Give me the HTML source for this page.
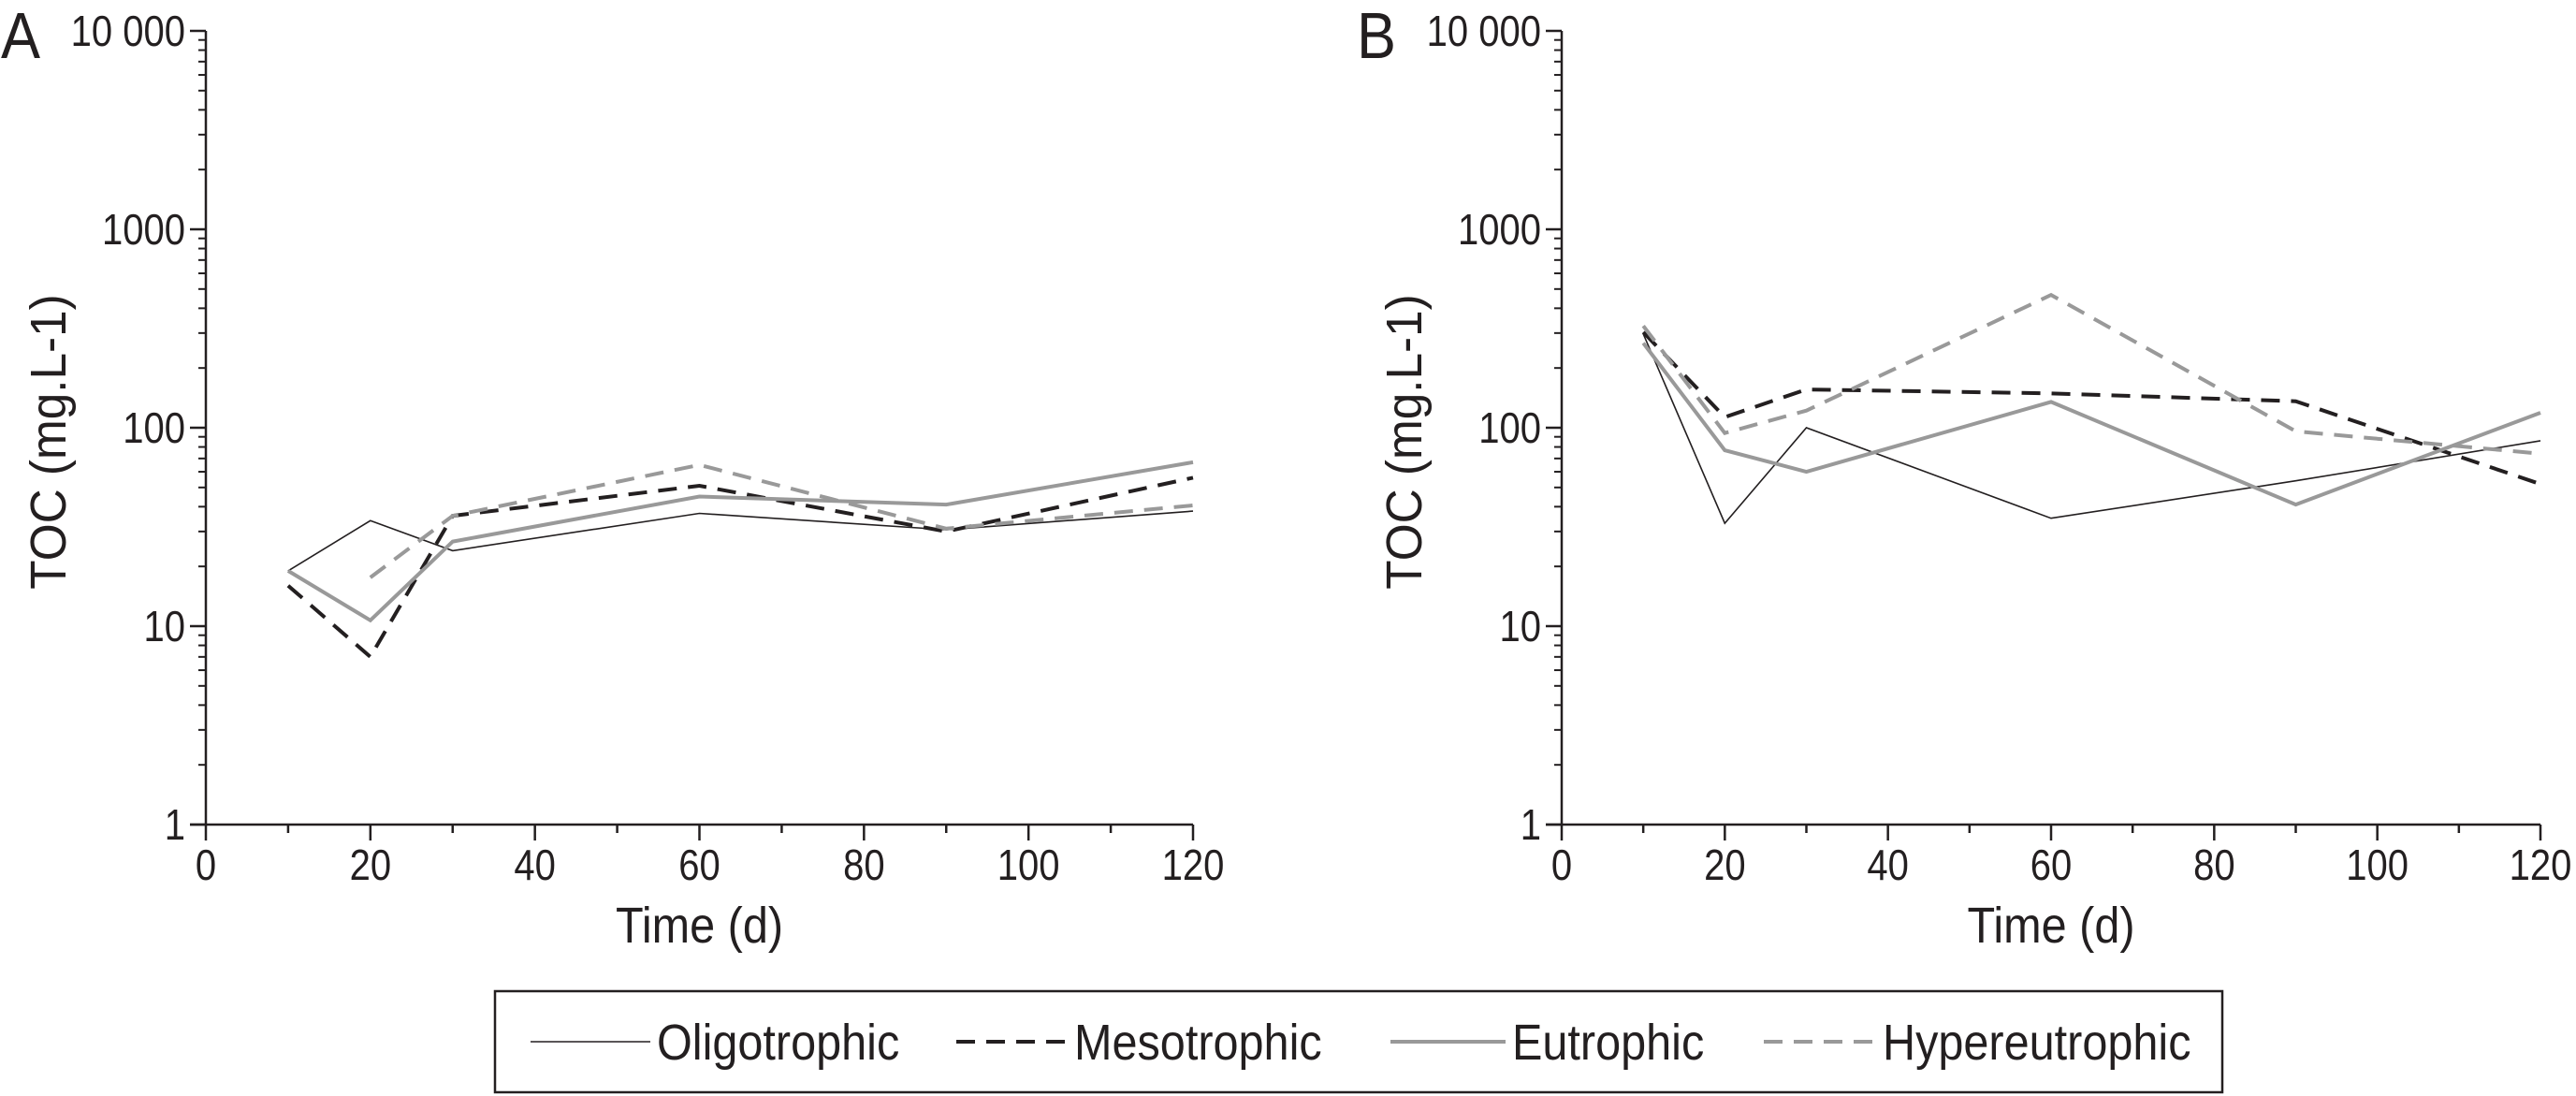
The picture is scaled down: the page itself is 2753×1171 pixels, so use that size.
<!DOCTYPE html>
<html><head><meta charset="utf-8">
<style>
html,body{margin:0;padding:0;background:#fff;}
svg{display:block;}
text{font-family:"Liberation Sans",sans-serif;fill:#231f20;}
</style></head>
<body>
<svg id="chart" width="2753" height="1171" viewBox="0 0 2753 1171" xmlns="http://www.w3.org/2000/svg"></svg>
<script>
const xTicks = [0, 20, 40, 60, 80, 100, 120];
const yTickLabels = ["1", "10", "100", "1000", "10 000"];
const seriesNames = ["Oligotrophic", "Mesotrophic", "Eutrophic", "Hypereutrophic"];
const daysA = [10, 20, 30, 60, 90, 120];
const oligoA = [19, 34, 24, 37, 30.6, 38];
const mesoA = [16, 7, 36, 51, 30, 56];
const eutroA = [19, 10.7, 26.7, 45, 41, 67];
const hyperDaysA = [20, 30, 60, 90, 120];
const hyperA = [17.6, 36, 65, 31, 40.6];
const daysB = [10, 20, 30, 60, 90, 120];
const oligoB = [297, 33, 100, 35, 54, 86];
const mesoB = [303, 113, 156, 149, 136, 52];
const eutroB = [267, 77, 60, 135, 41, 119];
const hyperB = [326, 94, 122, 467, 96, 74];

const NS = "http://www.w3.org/2000/svg";
const svg = document.getElementById("chart");
function el(tag, attrs, parent) {
  const e = document.createElementNS(NS, tag);
  for (const k in attrs) e.setAttribute(k, attrs[k]);
  (parent || svg).appendChild(e);
  return e;
}
function txt(parent, x, y, size, sx, anchor, str, rot) {
  let tf = "translate(" + x + " " + y + ")";
  if (rot) tf += " rotate(" + rot + ")";
  tf += " scale(" + sx + " 1)";
  const t = el("text", {x:0, y:0, "font-size":size, "text-anchor":anchor, transform:tf}, parent);
  t.textContent = str;
  return t;
}
const styles = [
  {stroke:"#231f20", w:1.6, dash:null},
  {stroke:"#231f20", w:4, dash:"20 12"},
  {stroke:"#999999", w:4, dash:null},
  {stroke:"#999999", w:4, dash:"20 12"}
];
const Y1 = 881, Y10K = 33;
function yScale(v) { return Y1 - (Math.log10(v) / 4) * (Y1 - Y10K); }

function panel(id, letter, x0, x120, data) {
  const g = el("g", {});
  
  
  const xs = v => x0 + (v / 120) * (x120 - x0);
  const ax = el("g", {}, g);
  
  
  el("line", {x1:x0, y1:Y10K, x2:x0, y2:Y1, stroke:"#231f20", "stroke-width":2.5}, ax);
  el("line", {x1:x0-17, y1:Y1, x2:x120, y2:Y1, stroke:"#231f20", "stroke-width":2.5}, ax);
  for (let d = 0; d < 4; d++) {
    for (let m = 2; m <= 9; m++) {
      const y = yScale(Math.pow(10, d) * m);
      el("line", {x1:x0-8, y1:y, x2:x0, y2:y, stroke:"#231f20", "stroke-width":2}, ax);
    }
  }
  yTickLabels.forEach((lab, i) => {
    const y = yScale(Math.pow(10, i));
    el("line", {x1:x0-17, y1:y, x2:x0, y2:y, stroke:"#231f20", "stroke-width":2.5}, ax);
    const t = txt(ax, x0-22, y+16, 46, 0.87, "end", lab);
    
    
  });
  xTicks.forEach(v => {
    el("line", {x1:xs(v), y1:Y1, x2:xs(v), y2:Y1+17, stroke:"#231f20", "stroke-width":2.5}, ax);
    const t = txt(ax, xs(v), 940, 46, 0.87, "middle", String(v));
    
    
  });
  for (let v = 10; v < 120; v += 20) {
    el("line", {x1:xs(v), y1:Y1, x2:xs(v), y2:Y1+9, stroke:"#231f20", "stroke-width":2.5}, ax);
  }
  const xt = txt(g, (x0 + x120) / 2, 1007, 54, 0.9, "middle", "Time (d)");
  
  
  const yt = txt(g, x0 - 150, 472, 54, 0.95, "middle", "TOC (mg.L-1)", -90);
  
  
  const pl = txt(g, x0 - 219, 62, 70, 0.9, "start", letter);
  
  
  data.forEach((s, i) => {
    const pts = s.x.map((d, j) => xs(d).toFixed(1) + "," + yScale(s.y[j]).toFixed(1)).join(" ");
    const st = styles[i];
    const a = {points:pts, fill:"none", stroke:st.stroke, "stroke-width":st.w, "stroke-linejoin":"miter"};
    if (st.dash) a["stroke-dasharray"] = st.dash;
    const p = el("polyline", a, g);
    
    
  });
}
panel("a", "A", 220, 1275, [
  {x:daysA, y:oligoA}, {x:daysA, y:mesoA}, {x:daysA, y:eutroA}, {x:hyperDaysA, y:hyperA}
]);
panel("b", "B", 1669, 2715, [
  {x:daysB, y:oligoB}, {x:daysB, y:mesoB}, {x:daysB, y:eutroB}, {x:daysB, y:hyperB}
]);

// Legend
const lg = el("g", {});


el("rect", {x:529, y:1059, width:1846, height:108, fill:"#fff", stroke:"#231f20", "stroke-width":2.5}, lg);
const legendX = [567, 1022, 1486, 1885];
const legendTextX = [702, 1148, 1616, 2012];
seriesNames.forEach((n, i) => {
  const st = styles[i];
  const a = {x1:legendX[i], y1:1113, x2:legendTextX[i] - 7, y2:1113, stroke:st.stroke, "stroke-width":st.w};
  if (st.dash) a["stroke-dasharray"] = st.dash;
  const ln = el("line", a, lg);
  
  
  const t = txt(lg, legendTextX[i], 1132, 54, 0.9, "start", n);
  
  
});
</script>
</body></html>
